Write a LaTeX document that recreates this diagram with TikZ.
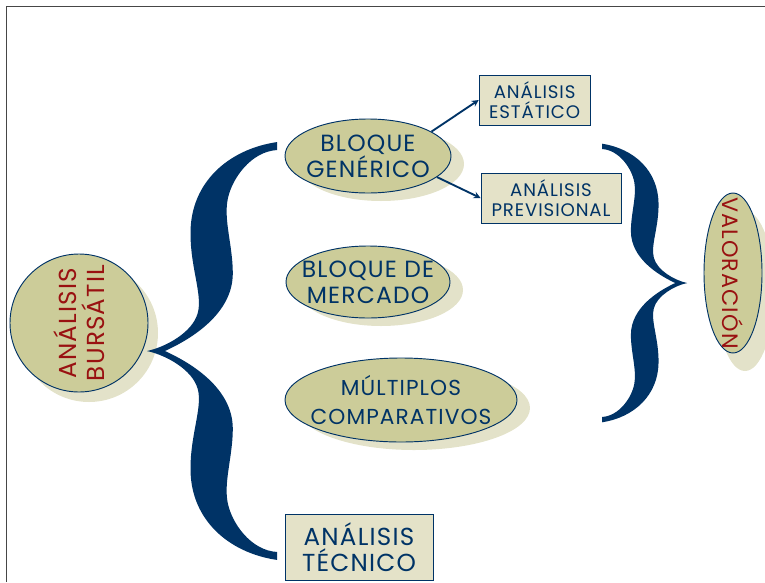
\documentclass[tikz,border=0pt]{standalone}
\usepackage{fontspec}
\setmainfont{Poppins}[LetterSpace=5]
\usetikzlibrary{shapes.geometric, arrows}
\definecolor{navy}{RGB}{0,51,102}
\definecolor{ovalfill}{RGB}{204,204,153}
\definecolor{shadecol}{RGB}{227,226,201}
\definecolor{boxfill}{RGB}{228,226,200}
\definecolor{darkred}{RGB}{153,17,17}
\definecolor{framecol}{RGB}{70,70,70}
\pgfdeclarelayer{back}
\pgfsetlayers{back,main}
\tikzstyle{oval} = [ellipse, 
draw=navy, 
line width=0.8pt,
inner xsep=-8mm,
inner ysep=-4mm,
text centered, 
align=center,
text=navy]
\tikzstyle{bigcircle} = [circle, 
draw=navy, 
line width=0.8pt,
minimum size=4.14cm,
inner sep=-2mm,
align=center,
text=darkred]
\tikzstyle{box} = [rectangle, 
draw=navy, 
line width=0.8pt,
fill=boxfill,
inner sep=0pt,
text centered, 
align=center,
text=navy]
\tikzstyle{bigfont} = [font=\fontsize{20}{22}\selectfont]
\tikzstyle{midfont} = [font=\fontsize{18.5}{24}\selectfont]
\tikzstyle{smallfont} = [font=\fontsize{15.5}{17}\selectfont]
\tikzstyle{arrow} = [line width=1.6pt, draw=navy, ->, >=stealth]
\tikzset{bracehalf/.pic={
  \fill[navy] (1,0.995) .. controls (0.62,0.96) and (0.34,0.80) .. (0.335,0.57)
    .. controls (0.33,0.40) and (0.43,0.27) .. (0.39,0.18)
    .. controls (0.35,0.09) and (0.15,0.02) .. (0,0) -- (0.138,0)
    .. controls (0.35,0.06) and (0.66,0.18) .. (0.66,0.37)
    .. controls (0.66,0.50) and (0.59,0.62) .. (0.62,0.72)
    .. controls (0.65,0.82) and (0.80,0.95) .. (1,0.957) -- cycle;
}}

\begin{document}
\begin{tikzpicture}
	\useasboundingbox (0,0) rectangle (22.95,-17.46);
	\draw [framecol, line width=1pt] (0.2,-17.46) -- (0.2,-0.2) -- (22.95,-0.2);

	\node (bursatil) [bigcircle, font=\fontsize{21}{24}\selectfont, rotate=90] at (2.37,-9.69) {ANÁLISIS\\BURSÁTIL};
	\node (mercado) [oval, bigfont, right of=bursatil, node distance=8.67cm, yshift=1.23cm, minimum width=4.92cm, minimum height=2.16cm] {BLOQUE DE\\MERCADO};
	\node (gen) [oval, bigfont, above of=mercado, node distance=3.78cm, minimum width=4.98cm, minimum height=2.22cm] {BLOQUE\\GENÉRICO};
	\node (multiplos) [oval, midfont, below of=mercado, node distance=3.54cm, xshift=0.99cm, minimum width=6.96cm, minimum height=2.52cm] {MÚLTIPLOS\\COMPARATIVOS};
	\node (tecnico) [box, font=\fontsize{21}{22}\selectfont, below of=multiplos, node distance=4.41cm, xshift=-1.26cm, minimum width=4.44cm, minimum height=1.98cm] {ANÁLISIS\\TÉCNICO};
	\node (estatico) [box, smallfont, right of=gen, node distance=5cm, yshift=1.68cm, minimum width=3.33cm, minimum height=1.5cm] {ANÁLISIS\\ESTÁTICO};
	\node (previsional) [box, smallfont, right of=gen, node distance=5.49cm, yshift=-1.26cm, minimum width=4.2cm, minimum height=1.5cm] {ANÁLISIS\\PREVISIONAL};
	\node (valoracion) [oval, font=\fontsize{19}{20}\selectfont, text=darkred, rotate=-90, minimum width=4.8cm, minimum height=1.74cm] at (21.99,-8.19) {VALORACIÓN};

	\draw [arrow] (gen.21) -- (estatico.west);
	\draw [arrow] (gen.-17) -- (previsional.west);

	% braces
	\pic [xscale=3.9, yscale=6.3] at (4.41,-10.53) {bracehalf};
	\pic [xscale=3.9, yscale=-6.3] at (4.41,-10.53) {bracehalf};
	\pic [xscale=-2.55, yscale=4.2] at (20.61,-8.49) {bracehalf};
	\pic [xscale=-2.55, yscale=-4.2] at (20.61,-8.49) {bracehalf};

	% fills and shadows
	\begin{pgfonlayer}{back}
		\fill [shadecol] ([shift={(0.3,-0.3)}]bursatil.center) circle (2.07);
		\fill [ovalfill] (bursatil.center) circle (2.07);
		\fill [shadecol] ([shift={(0.39,-0.24)}]gen.center) ellipse (2.49 and 1.11);
		\fill [ovalfill] (gen.center) ellipse (2.49 and 1.11);
		\fill [shadecol] ([shift={(0.39,-0.24)}]mercado.center) ellipse (2.46 and 1.08);
		\fill [ovalfill] (mercado.center) ellipse (2.46 and 1.08);
		\fill [shadecol] ([shift={(0.39,-0.24)}]multiplos.center) ellipse (3.48 and 1.26);
		\fill [ovalfill] (multiplos.center) ellipse (3.48 and 1.26);
		\fill [shadecol] ([shift={(0.36,-0.54)}]valoracion.center) ellipse (0.87 and 2.4);
		\fill [ovalfill] (valoracion.center) ellipse (0.87 and 2.4);
	\end{pgfonlayer}
\end{tikzpicture}
\end{document}
